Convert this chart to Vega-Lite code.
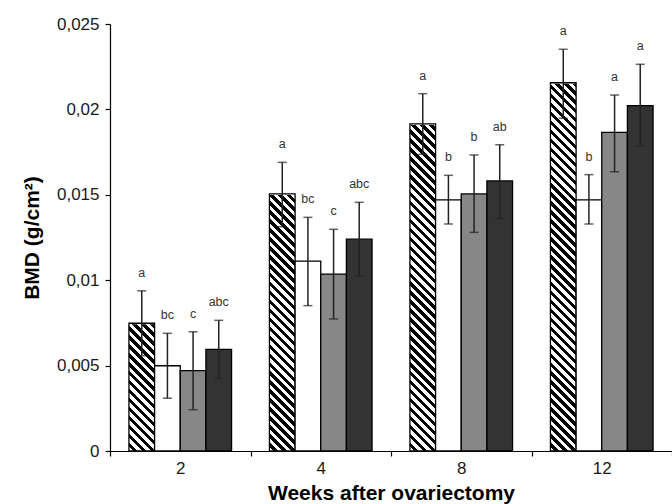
{
  "$schema": "https://vega.github.io/schema/vega-lite/v6.json",
  "width": 562,
  "height": 427,
  "autosize": {"type": "none"},
  "padding": {"left": 110, "top": 24, "right": 0, "bottom": 53},
  "background": "white",
  "config": {
    "font": "Liberation Sans",
    "view": {"stroke": null},
    "axis": {
      "domainColor": "#000000",
      "domainWidth": 1.2,
      "tickColor": "#000000",
      "tickWidth": 1.2,
      "tickSize": 5,
      "grid": false,
      "labelFont": "Liberation Sans",
      "labelFontSize": 17,
      "labelColor": "#1a1a1a",
      "titleFont": "Liberation Sans",
      "titleFontSize": 21,
      "titleFontWeight": "bold",
      "titleColor": "#000000"
    }
  },
  "data": {
    "values": [
      {"week": "2", "grp": "A", "mean": 0.00748, "lo": 0.00558, "hi": 0.00938, "letter": "a"},
      {"week": "2", "grp": "B", "mean": 0.00499, "lo": 0.00309, "hi": 0.00689, "letter": "bc"},
      {"week": "2", "grp": "C", "mean": 0.00470, "lo": 0.00242, "hi": 0.00698, "letter": "c"},
      {"week": "2", "grp": "D", "mean": 0.00595, "lo": 0.00425, "hi": 0.00765, "letter": "abc"},
      {"week": "4", "grp": "A", "mean": 0.01505, "lo": 0.01313, "hi": 0.01690, "letter": "a"},
      {"week": "4", "grp": "B", "mean": 0.01112, "lo": 0.00851, "hi": 0.01368, "letter": "bc"},
      {"week": "4", "grp": "C", "mean": 0.01036, "lo": 0.00773, "hi": 0.01298, "letter": "c"},
      {"week": "4", "grp": "D", "mean": 0.01240, "lo": 0.01025, "hi": 0.01456, "letter": "abc"},
      {"week": "8", "grp": "A", "mean": 0.01915, "lo": 0.01737, "hi": 0.02092, "letter": "a"},
      {"week": "8", "grp": "B", "mean": 0.01470, "lo": 0.01329, "hi": 0.01614, "letter": "b"},
      {"week": "8", "grp": "C", "mean": 0.01505, "lo": 0.01280, "hi": 0.01733, "letter": "b"},
      {"week": "8", "grp": "D", "mean": 0.01581, "lo": 0.01362, "hi": 0.01793, "letter": "ab"},
      {"week": "12", "grp": "A", "mean": 0.02156, "lo": 0.01948, "hi": 0.02352, "letter": "a"},
      {"week": "12", "grp": "B", "mean": 0.01470, "lo": 0.01329, "hi": 0.01618, "letter": "b"},
      {"week": "12", "grp": "C", "mean": 0.01866, "lo": 0.01635, "hi": 0.02084, "letter": "a"},
      {"week": "12", "grp": "D", "mean": 0.02022, "lo": 0.01787, "hi": 0.02264, "letter": "a"}
    ]
  },
  "encoding": {
    "x": {
      "field": "week",
      "type": "ordinal",
      "sort": ["2", "4", "8", "12"],
      "scale": {"paddingInner": 0, "paddingOuter": 0},
      "title": "Weeks after ovariectomy",
      "axis": {"labelAngle": 0, "tickBand": "extent", "labelPadding": 4, "titlePadding": 6}
    },
    "xOffset": {
      "field": "grp",
      "type": "nominal",
      "sort": ["A", "B", "C", "D"],
      "scale": {"domain": ["A", "B", "C", "D"], "paddingOuter": 0.738, "paddingInner": 0}
    }
  },
  "layer": [
    {
      "transform": [
        {"joinaggregate": [{"op": "max", "field": "mean", "as": "hmax"}], "groupby": ["grp"]},
        {"filter": "datum.grp === 'A'"}
      ],
      "mark": {
        "type": "bar",
        "strokeWidth": 0,
        "fill": {
          "gradient": "linear",
          "x1": 1, "y1": 0, "x2": 0.9258, "y2": 1.0645,
          "stops": [
            {"offset": 0, "color": "#000"}, {"offset": 0.01136, "color": "#000"}, {"offset": 0.01136, "color": "#fff"}, {"offset": 0.02273, "color": "#fff"},
            {"offset": 0.02273, "color": "#000"}, {"offset": 0.03409, "color": "#000"}, {"offset": 0.03409, "color": "#fff"}, {"offset": 0.04545, "color": "#fff"},
            {"offset": 0.04545, "color": "#000"}, {"offset": 0.05682, "color": "#000"}, {"offset": 0.05682, "color": "#fff"}, {"offset": 0.06818, "color": "#fff"},
            {"offset": 0.06818, "color": "#000"}, {"offset": 0.07955, "color": "#000"}, {"offset": 0.07955, "color": "#fff"}, {"offset": 0.09091, "color": "#fff"},
            {"offset": 0.09091, "color": "#000"}, {"offset": 0.10227, "color": "#000"}, {"offset": 0.10227, "color": "#fff"}, {"offset": 0.11364, "color": "#fff"},
            {"offset": 0.11364, "color": "#000"}, {"offset": 0.125, "color": "#000"}, {"offset": 0.125, "color": "#fff"}, {"offset": 0.13636, "color": "#fff"},
            {"offset": 0.13636, "color": "#000"}, {"offset": 0.14773, "color": "#000"}, {"offset": 0.14773, "color": "#fff"}, {"offset": 0.15909, "color": "#fff"},
            {"offset": 0.15909, "color": "#000"}, {"offset": 0.17045, "color": "#000"}, {"offset": 0.17045, "color": "#fff"}, {"offset": 0.18182, "color": "#fff"},
            {"offset": 0.18182, "color": "#000"}, {"offset": 0.19318, "color": "#000"}, {"offset": 0.19318, "color": "#fff"}, {"offset": 0.20455, "color": "#fff"},
            {"offset": 0.20455, "color": "#000"}, {"offset": 0.21591, "color": "#000"}, {"offset": 0.21591, "color": "#fff"}, {"offset": 0.22727, "color": "#fff"},
            {"offset": 0.22727, "color": "#000"}, {"offset": 0.23864, "color": "#000"}, {"offset": 0.23864, "color": "#fff"}, {"offset": 0.25, "color": "#fff"},
            {"offset": 0.25, "color": "#000"}, {"offset": 0.26136, "color": "#000"}, {"offset": 0.26136, "color": "#fff"}, {"offset": 0.27273, "color": "#fff"},
            {"offset": 0.27273, "color": "#000"}, {"offset": 0.28409, "color": "#000"}, {"offset": 0.28409, "color": "#fff"}, {"offset": 0.29545, "color": "#fff"},
            {"offset": 0.29545, "color": "#000"}, {"offset": 0.30682, "color": "#000"}, {"offset": 0.30682, "color": "#fff"}, {"offset": 0.31818, "color": "#fff"},
            {"offset": 0.31818, "color": "#000"}, {"offset": 0.32955, "color": "#000"}, {"offset": 0.32955, "color": "#fff"}, {"offset": 0.34091, "color": "#fff"},
            {"offset": 0.34091, "color": "#000"}, {"offset": 0.35227, "color": "#000"}, {"offset": 0.35227, "color": "#fff"}, {"offset": 0.36364, "color": "#fff"},
            {"offset": 0.36364, "color": "#000"}, {"offset": 0.375, "color": "#000"}, {"offset": 0.375, "color": "#fff"}, {"offset": 0.38636, "color": "#fff"},
            {"offset": 0.38636, "color": "#000"}, {"offset": 0.39773, "color": "#000"}, {"offset": 0.39773, "color": "#fff"}, {"offset": 0.40909, "color": "#fff"},
            {"offset": 0.40909, "color": "#000"}, {"offset": 0.42045, "color": "#000"}, {"offset": 0.42045, "color": "#fff"}, {"offset": 0.43182, "color": "#fff"},
            {"offset": 0.43182, "color": "#000"}, {"offset": 0.44318, "color": "#000"}, {"offset": 0.44318, "color": "#fff"}, {"offset": 0.45455, "color": "#fff"},
            {"offset": 0.45455, "color": "#000"}, {"offset": 0.46591, "color": "#000"}, {"offset": 0.46591, "color": "#fff"}, {"offset": 0.47727, "color": "#fff"},
            {"offset": 0.47727, "color": "#000"}, {"offset": 0.48864, "color": "#000"}, {"offset": 0.48864, "color": "#fff"}, {"offset": 0.5, "color": "#fff"},
            {"offset": 0.5, "color": "#000"}, {"offset": 0.51136, "color": "#000"}, {"offset": 0.51136, "color": "#fff"}, {"offset": 0.52273, "color": "#fff"},
            {"offset": 0.52273, "color": "#000"}, {"offset": 0.53409, "color": "#000"}, {"offset": 0.53409, "color": "#fff"}, {"offset": 0.54545, "color": "#fff"},
            {"offset": 0.54545, "color": "#000"}, {"offset": 0.55682, "color": "#000"}, {"offset": 0.55682, "color": "#fff"}, {"offset": 0.56818, "color": "#fff"},
            {"offset": 0.56818, "color": "#000"}, {"offset": 0.57955, "color": "#000"}, {"offset": 0.57955, "color": "#fff"}, {"offset": 0.59091, "color": "#fff"},
            {"offset": 0.59091, "color": "#000"}, {"offset": 0.60227, "color": "#000"}, {"offset": 0.60227, "color": "#fff"}, {"offset": 0.61364, "color": "#fff"},
            {"offset": 0.61364, "color": "#000"}, {"offset": 0.625, "color": "#000"}, {"offset": 0.625, "color": "#fff"}, {"offset": 0.63636, "color": "#fff"},
            {"offset": 0.63636, "color": "#000"}, {"offset": 0.64773, "color": "#000"}, {"offset": 0.64773, "color": "#fff"}, {"offset": 0.65909, "color": "#fff"},
            {"offset": 0.65909, "color": "#000"}, {"offset": 0.67045, "color": "#000"}, {"offset": 0.67045, "color": "#fff"}, {"offset": 0.68182, "color": "#fff"},
            {"offset": 0.68182, "color": "#000"}, {"offset": 0.69318, "color": "#000"}, {"offset": 0.69318, "color": "#fff"}, {"offset": 0.70455, "color": "#fff"},
            {"offset": 0.70455, "color": "#000"}, {"offset": 0.71591, "color": "#000"}, {"offset": 0.71591, "color": "#fff"}, {"offset": 0.72727, "color": "#fff"},
            {"offset": 0.72727, "color": "#000"}, {"offset": 0.73864, "color": "#000"}, {"offset": 0.73864, "color": "#fff"}, {"offset": 0.75, "color": "#fff"},
            {"offset": 0.75, "color": "#000"}, {"offset": 0.76136, "color": "#000"}, {"offset": 0.76136, "color": "#fff"}, {"offset": 0.77273, "color": "#fff"},
            {"offset": 0.77273, "color": "#000"}, {"offset": 0.78409, "color": "#000"}, {"offset": 0.78409, "color": "#fff"}, {"offset": 0.79545, "color": "#fff"},
            {"offset": 0.79545, "color": "#000"}, {"offset": 0.80682, "color": "#000"}, {"offset": 0.80682, "color": "#fff"}, {"offset": 0.81818, "color": "#fff"},
            {"offset": 0.81818, "color": "#000"}, {"offset": 0.82955, "color": "#000"}, {"offset": 0.82955, "color": "#fff"}, {"offset": 0.84091, "color": "#fff"},
            {"offset": 0.84091, "color": "#000"}, {"offset": 0.85227, "color": "#000"}, {"offset": 0.85227, "color": "#fff"}, {"offset": 0.86364, "color": "#fff"},
            {"offset": 0.86364, "color": "#000"}, {"offset": 0.875, "color": "#000"}, {"offset": 0.875, "color": "#fff"}, {"offset": 0.88636, "color": "#fff"},
            {"offset": 0.88636, "color": "#000"}, {"offset": 0.89773, "color": "#000"}, {"offset": 0.89773, "color": "#fff"}, {"offset": 0.90909, "color": "#fff"},
            {"offset": 0.90909, "color": "#000"}, {"offset": 0.92045, "color": "#000"}, {"offset": 0.92045, "color": "#fff"}, {"offset": 0.93182, "color": "#fff"},
            {"offset": 0.93182, "color": "#000"}, {"offset": 0.94318, "color": "#000"}, {"offset": 0.94318, "color": "#fff"}, {"offset": 0.95455, "color": "#fff"},
            {"offset": 0.95455, "color": "#000"}, {"offset": 0.96591, "color": "#000"}, {"offset": 0.96591, "color": "#fff"}, {"offset": 0.97727, "color": "#fff"},
            {"offset": 0.97727, "color": "#000"}, {"offset": 0.98864, "color": "#000"}, {"offset": 0.98864, "color": "#fff"}, {"offset": 1, "color": "#fff"}
          ]
        }
      },
      "encoding": {
        "y": {
          "field": "hmax",
          "type": "quantitative",
          "stack": null,
          "scale": {"domain": [0, 0.025], "nice": false, "zero": true},
          "title": "BMD (g/cm²)",
          "axis": {
            "values": [0, 0.005, 0.01, 0.015, 0.02, 0.025],
            "labelExpr": "replace(toString(datum.value), '.', ',')",
            "labelPadding": 6,
            "titlePadding": 14
          }
        }
      }
    },
    {
      "transform": [
        {"joinaggregate": [{"op": "max", "field": "mean", "as": "hmax"}], "groupby": ["grp"]},
        {"filter": "datum.grp === 'A'"}
      ],
      "mark": {"type": "bar", "fill": "#ffffff", "stroke": "#ffffff", "strokeWidth": 2},
      "encoding": {
        "y": {"field": "mean", "type": "quantitative", "stack": null, "title": "BMD (g/cm²)"},
        "y2": {"field": "hmax"}
      }
    },
    {
      "mark": {"type": "bar", "stroke": "#000000", "strokeWidth": 1.3},
      "encoding": {
        "y": {"field": "mean", "type": "quantitative", "stack": null, "title": "BMD (g/cm²)"},
        "fill": {
          "field": "grp",
          "type": "nominal",
          "scale": {"domain": ["A", "B", "C", "D"], "range": ["transparent", "#ffffff", "#878787", "#333333"]},
          "legend": null
        }
      }
    },
    {
      "mark": {"type": "rule", "color": "#222222", "strokeWidth": 1.5},
      "encoding": {
        "y": {"field": "lo", "type": "quantitative", "title": "BMD (g/cm²)"},
        "y2": {"field": "hi"}
      }
    },
    {
      "mark": {"type": "tick", "orient": "horizontal", "color": "#222222", "size": 9, "thickness": 1.5},
      "encoding": {
        "y": {"field": "lo", "type": "quantitative", "title": "BMD (g/cm²)"}
      }
    },
    {
      "mark": {"type": "tick", "orient": "horizontal", "color": "#222222", "size": 9, "thickness": 1.5},
      "encoding": {
        "y": {"field": "hi", "type": "quantitative", "title": "BMD (g/cm²)"}
      }
    },
    {
      "mark": {"type": "text", "baseline": "alphabetic", "dy": -14, "fontSize": 12.5, "color": "#333333", "font": "Liberation Sans"},
      "encoding": {
        "y": {"field": "hi", "type": "quantitative", "title": "BMD (g/cm²)"},
        "text": {"field": "letter"}
      }
    }
  ]
}
